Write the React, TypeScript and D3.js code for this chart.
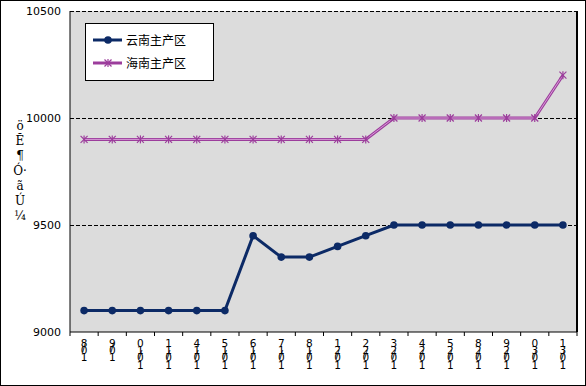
import React from "react";
import * as d3 from "d3";

// date labels, drawn as the garbled stacked glyphs of the original
const dates = [
  "8/01", "9/01", "01/01", "11/01", "41/01", "51/01", "61/01", "71/01", "81/01",
  "12/01", "22/01", "32/01", "42/01", "52/01", "82/01", "92/01", "03/01", "13/01",
];
const yunnan = [9100, 9100, 9100, 9100, 9100, 9100, 9450, 9350, 9350, 9400, 9450, 9500, 9500, 9500, 9500, 9500, 9500, 9500];
const hainan = [9900, 9900, 9900, 9900, 9900, 9900, 9900, 9900, 9900, 9900, 9900, 10000, 10000, 10000, 10000, 10000, 10000, 10200];
const yTicks = [9000, 9500, 10000, 10500];
const seriesNames = ["云南主产区", "海南主产区"];
const yTitleGlyphs = ["ö", "Ĕ", "¶", "Ó·", "ã", "Ú", "¼"];

const W = 586;
const H = 386;
const left = 70;
const right = 577;
const top = 11;
const bottom = 332;

const navy = "#0c2a66";
const purple = "#9c3d9c";

const App = () => {
  const x = d3.scaleBand<string>().domain(dates.map((d, i) => String(i))).range([left, right]);
  const y = d3.scaleLinear().domain([9000, 10500]).range([bottom, top]);
  const cx = (i: number) => (x(String(i)) as number) + x.bandwidth() / 2;

  const line = d3
    .line<number>()
    .x((d, i) => cx(i))
    .y((d) => y(d));

  const star = (px: number, py: number, k: number) => {
    const s = 3.5;
    return (
      <g key={k} stroke={purple} strokeWidth={1.2}>
        <line x1={px - s} y1={py - s} x2={px + s} y2={py + s} />
        <line x1={px - s} y1={py + s} x2={px + s} y2={py - s} />
        <line x1={px} y1={py - s - 0.5} x2={px} y2={py + s + 0.5} />
      </g>
    );
  };

  // stacked glyph positions for a date label
  const stacked = (label: string) => {
    const out: { ch: string; dy: number }[] = [];
    let pos = 0;
    for (const ch of label) {
      if (ch === "/") {
        out.push({ ch, dy: pos - 3.5 });
      } else {
        out.push({ ch, dy: pos });
        pos += 7.2;
      }
    }
    return out;
  };

  return (
    <svg width={W} height={H} style={{ position: "absolute", left: 0, top: 0 }}>
      <rect x={0.5} y={0.5} width={W - 1} height={H - 1} fill="#fff" stroke="#000" />
      <rect x={left} y={top} width={right - left} height={bottom - top} fill="#dcdcdc" />

      {yTicks.slice(1).map((t) => (
        <line key={t} x1={left} x2={right} y1={y(t) + 0.5} y2={y(t) + 0.5} stroke="#000" strokeDasharray="4,2" strokeWidth={1.2} />
      ))}

      <line x1={left} x2={left} y1={top} y2={bottom} stroke="#000" />
      <line x1={right} x2={right} y1={top} y2={bottom} stroke="#000" strokeWidth={2} />
      <line x1={left} x2={right} y1={bottom} y2={bottom} stroke="#000" />
      {dates.map((d, i) => (
        <line key={"t" + i} x1={(x(String(i)) as number) + x.bandwidth()} x2={(x(String(i)) as number) + x.bandwidth()} y1={bottom} y2={bottom + 4} stroke="#000" />
      ))}
      <line x1={left} x2={left} y1={bottom} y2={bottom + 4} stroke="#000" />

      {yTicks.map((t) => (
        <text key={t} x={61} y={y(t) + 4} textAnchor="end" fontFamily="DejaVu Sans" fontSize={11} fill="#000">
          {t}
        </text>
      ))}

      <text fontFamily="DejaVu Serif" fontSize={12} fill="#000" textAnchor="middle">
        {yTitleGlyphs.map((g, i) => (
          <tspan key={g} x={20} y={130 + i * 15}>
            {g}
          </tspan>
        ))}
      </text>

      {dates.map((d, i) => (
        <text key={"l" + i} fontFamily="DejaVu Sans" fontSize={10.5} fill="#000" textAnchor="middle">
          {stacked(d).map((c, j) => (
            <tspan key={j} x={cx(i)} y={347 + c.dy}>
              {c.ch}
            </tspan>
          ))}
        </text>
      ))}

      <path d={line(hainan) as string} fill="none" stroke={purple} strokeWidth={3} />
      <path d={line(hainan) as string} fill="none" stroke="#e6b3e6" strokeWidth={0.8} />
      {hainan.map((v, i) => star(cx(i), y(v), i))}

      <path d={line(yunnan) as string} fill="none" stroke={navy} strokeWidth={3} />
      {yunnan.map((v, i) => (
        <circle key={i} cx={cx(i)} cy={y(v)} r={3.8} fill={navy} />
      ))}

      <rect x={85.5} y={23.5} width={128} height={57} fill="#fff" stroke="#000" />
      <line x1={93} x2={122} y1={40} y2={40} stroke={navy} strokeWidth={3} />
      <circle cx={108} cy={40} r={3.8} fill={navy} />
      <line x1={93} x2={122} y1={63} y2={63} stroke={purple} strokeWidth={3} />
      {star(108, 63, 99)}
      {seriesNames.map((n, i) => (
        <text key={n} x={126} y={44.5 + i * 23} fontFamily="Noto Sans CJK SC" fontSize={12} fill="#000">
          {n}
        </text>
      ))}
    </svg>
  );
};

export default App;
